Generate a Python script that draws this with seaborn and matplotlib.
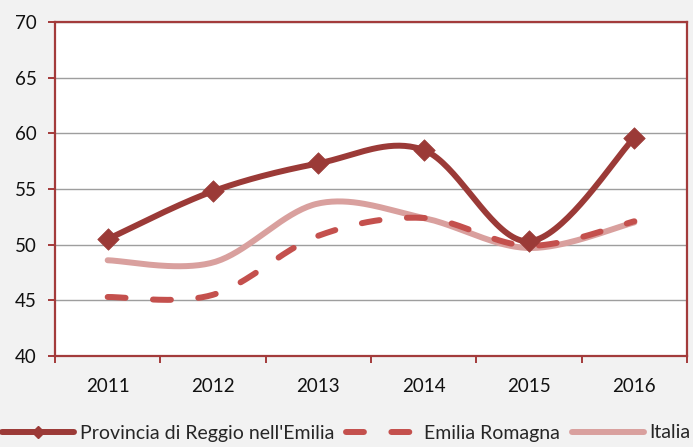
import numpy as np
import pandas as pd
import seaborn as sns
import matplotlib
matplotlib.use("Agg")
import matplotlib.pyplot as plt
from matplotlib.lines import Line2D

years = ["2011", "2012", "2013", "2014", "2015", "2016"]
provincia = [50.5, 54.8, 57.3, 58.5, 50.3, 59.6]
emilia = [45.3, 45.5, 50.8, 52.4, 49.9, 52.1]
italia = [48.6, 48.4, 53.7, 52.4, 49.7, 52.0]
series_names = ["Provincia di Reggio nell'Emilia", "Emilia Romagna", "Italia"]
yticks = [40, 45, 50, 55, 60, 65, 70]

c_prov = "#9B3A37"
c_emil = "#C4504D"
c_ital = "#D9A09E"
c_spine = "#A33B3B"

sns.set_theme(style="white")
plt.rcParams["font.family"] = ["Lato", "DejaVu Sans"]


def smooth(vals, n=40):
    """Excel-like smoothed line (Bezier through points, tension 1/6)."""
    p = np.column_stack([np.arange(len(vals), dtype=float), np.asarray(vals, float)])
    ext = np.vstack([p[0], p, p[-1]])
    xs, ys = [], []
    t = np.linspace(0, 1, n)
    for i in range(len(p) - 1):
        p0 = ext[i + 1]
        p3 = ext[i + 2]
        c1 = p0 + (ext[i + 2] - ext[i]) / 6.0
        c2 = p3 - (ext[i + 3] - ext[i + 1]) / 6.0
        b = ((1 - t) ** 3)[:, None] * p0 + (3 * (1 - t) ** 2 * t)[:, None] * c1 \
            + (3 * (1 - t) * t ** 2)[:, None] * c2 + (t ** 3)[:, None] * p3
        if i > 0:
            b = b[1:]
        xs.append(b[:, 0])
        ys.append(b[:, 1])
    return np.concatenate(xs), np.concatenate(ys)


fig = plt.figure(figsize=(6.93, 4.47), dpi=100, facecolor="#F2F2F2")
ax = fig.add_axes([55 / 693, (447 - 356) / 447, (687 - 55) / 693, (356 - 22) / 447])
ax.set_facecolor("white")

lw = 4.3
for vals, col, ls, name in [
    (italia, c_ital, "-", series_names[2]),
    (emilia, c_emil, (0, (3.0, 4.6)), series_names[1]),
    (provincia, c_prov, "-", series_names[0]),
]:
    sx, sy = smooth(vals)
    df = pd.DataFrame({"x": sx, "y": sy})
    sns.lineplot(data=df, x="x", y="y", sort=False, ax=ax, color=col, linewidth=lw,
                 linestyle=ls, dash_capstyle="round", solid_capstyle="round",
                 legend=False, zorder=3)

dfp = pd.DataFrame({"x": np.arange(len(years)), "y": provincia})
sns.scatterplot(data=dfp, x="x", y="y", ax=ax, marker="D", s=120, color=c_prov,
                edgecolor=c_prov, linewidth=0.5, zorder=4, legend=False)

ax.set_xlim(-0.5, len(years) - 0.5)
ax.set_ylim(40, 70)
ax.set_yticks(yticks)
ax.set_yticklabels([str(v) for v in yticks])
ax.set_xticks(np.arange(len(years)))
ax.set_xticklabels(years)
ax.set_xticks(np.arange(len(years) + 1) - 0.5, minor=True)
ax.set_xlabel("")
ax.set_ylabel("")

ax.grid(axis="y", color="#9E9E9E", linewidth=1.0, zorder=0)
ax.set_axisbelow(True)
for s in ax.spines.values():
    s.set_visible(True)
    s.set_color(c_spine)
    s.set_linewidth(1.6)

ax.tick_params(axis="y", which="major", length=5, width=1.4, color=c_spine,
               labelsize=13.5, pad=8, labelcolor="#111111", left=True)
ax.tick_params(axis="x", which="major", length=0, labelsize=13.5, pad=16,
               labelcolor="#111111")
ax.tick_params(axis="x", which="minor", length=5, width=1.4, color=c_spine,
               bottom=True)

handles = [
    Line2D([0], [0], color=c_prov, lw=lw, marker="D", markersize=6,
           solid_capstyle="round"),
    Line2D([0], [0], color=c_emil, lw=lw, linestyle=(0, (3.0, 4.6)),
           dash_capstyle="round"),
    Line2D([0], [0], color=c_ital, lw=lw, solid_capstyle="round"),
]
fig.legend(handles, series_names, loc="center", bbox_to_anchor=(0.5, 14 / 447),
           ncol=3, frameon=False, fontsize=14, handlelength=3.7,
           handletextpad=0.3, columnspacing=0.6, borderaxespad=0)

fig.savefig("out.png", dpi=100, facecolor=fig.get_facecolor())
